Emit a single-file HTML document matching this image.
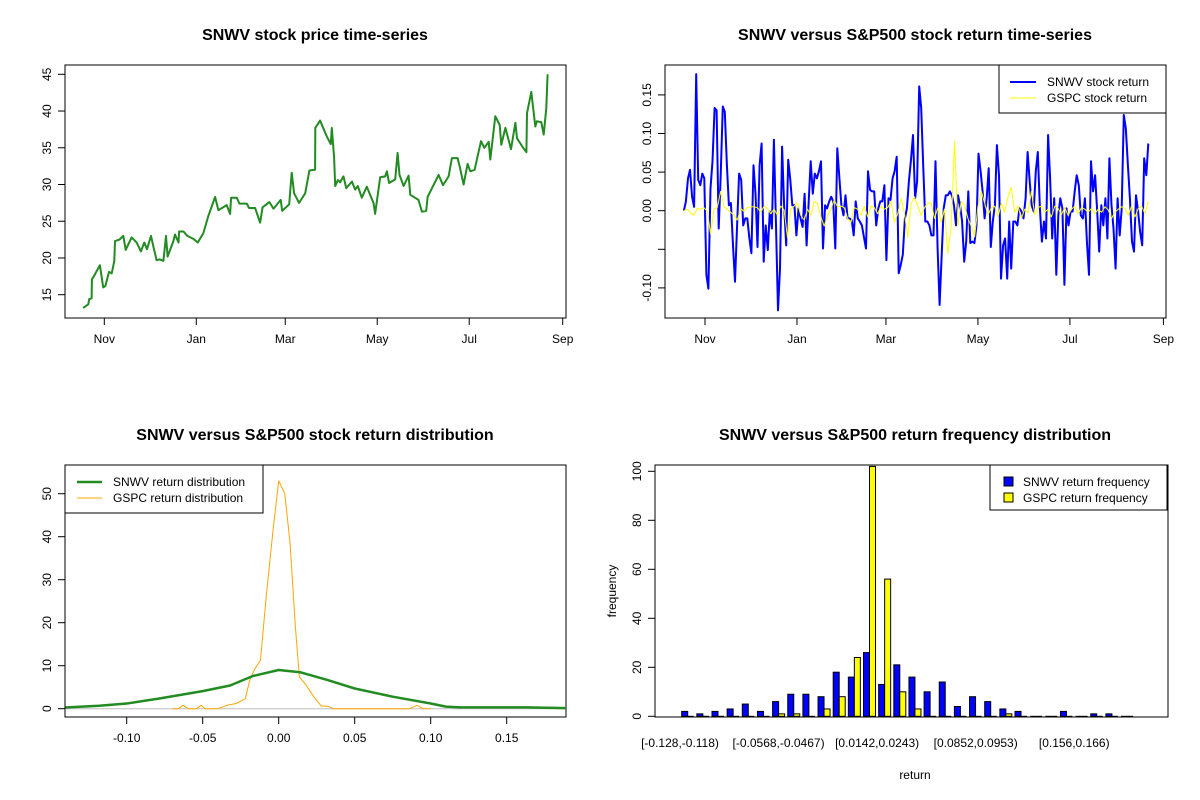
<!DOCTYPE html>
<html><head><meta charset="utf-8"><style>
body{margin:0;background:#fff}
svg{display:block;font-family:"Liberation Sans",Arial,sans-serif}
</style></head><body>
<svg id="chart" width="1200" height="800" viewBox="0 0 1200 800"></svg>
<script>
// ---------- data ----------
const priceDays=[-14,-10.6,-10,-8.4,-8.2,-6.6,-5.1,-2.9,-0.7,0.7,3.1,4.9,6.6,7.1,10,12.6,14.2,18.1,21.5,24.3,26.5,28.3,31,32.5,34.7,36.9,39.2,40.9,42,45.8,46.9,49.2,49.6,52.5,55.1,59.1,62,65.7,69,73.5,75.7,81.2,83.4,84.1,87.9,89.6,94.5,96,100,103.3,105,109.5,112.2,117,118,122.6,124.3,125.9,129.2,133.2,136,139.8,139.9,143.1,147.6,150.2,150.9,152.4,153.1,154.9,156.4,158.6,160.4,164.2,166.4,168.1,170.8,174.1,178.5,179.6,183,186.3,187.4,188.9,192.9,194.5,195.8,198.5,201.8,202.9,208.4,210.6,213.5,214.4,221.7,224.6,228.3,230.5,234.3,235.6,238.3,240.9,242.7,245.6,249.8,252,254.9,256,259.3,262.2,263.3,266,269.7,272.6,273.7,277.4,279.9,280.3,283.2,285.8,286.9,289.8,291.4,293.1,294];
const prices=[13.2,13.7,14.4,14.5,17.1,17.6,18.2,19.0,16.0,16.2,18.1,17.9,19.6,22.3,22.5,23.0,21.1,22.8,22.1,20.9,22.1,21.2,23.0,21.6,19.7,19.8,19.6,23.0,20.2,22.3,23.2,22.1,23.6,23.6,23.0,22.6,22.1,23.4,25.7,28.3,26.5,27.2,26.0,28.2,28.2,27.4,27.4,26.8,26.8,24.8,26.9,27.6,26.7,27.9,26.4,27.3,31.6,28.8,27.5,28.8,31.9,32.0,37.7,38.7,36.5,35.5,37.7,33.7,29.8,30.6,30.3,31.1,29.5,30.4,29.3,29.8,28.2,29.7,27.5,26.0,31.0,31.1,31.8,30.2,30.7,34.3,31.3,29.8,31.2,28.6,27.9,26.3,26.4,28.3,31.3,29.9,31.1,33.6,33.6,32.5,30.0,32.8,31.8,32.0,35.9,35.0,35.8,33.4,39.3,38.1,35.4,37.7,34.8,38.4,36.3,35.1,34.4,39.7,42.6,37.9,38.6,38.5,36.8,40.4,45.0];
const monthLabels=["Nov","Jan","Mar","May","Jul","Sep"];
const monthDays=[0,61,120,181,242,304];
const priceTicks=[15,20,25,30,35,40,45];
const snwvRet=[0,.012,.042,.053,.018,.005,.177,.040,.033,.048,.042,-.083,-.101,.029,.064,.133,.130,-.023,.046,.135,.128,.059,.007,.010,-.045,-.092,-.019,.048,.040,-.019,-.010,-.010,-.036,-.055,.059,.022,-.047,.059,.087,-.066,-.019,-.051,-.001,-.023,.092,-.019,-.129,-.075,.083,.007,-.045,.066,.040,.007,.007,-.032,.003,-.010,-.021,.022,-.045,.012,.064,.022,.048,.042,.051,.064,-.049,.007,.003,.012,.018,.012,-.049,.081,.042,.007,-.006,.020,-.010,-.010,-.012,-.032,.012,-.010,-.014,-.019,-.034,-.049,.051,.027,.025,.025,-.019,.003,.012,.012,.033,-.064,.016,.014,.042,.051,.070,-.081,-.070,-.057,-.010,.003,.038,.066,.098,.016,.038,.161,.133,.055,
-.014,-.014,-.019,-.032,-.032,.064,-.049,-.122,-.057,.003,.020,.020,.025,.020,.007,-.019,.020,.007,-.014,-.066,-.040,.025,-.042,-.040,-.042,-.019,.074,.051,.025,-.010,.016,.055,-.047,-.014,.007,.085,.046,-.088,-.045,-.036,-.088,-.014,-.075,-.014,-.014,-.019,.003,-.001,-.010,.016,.076,.038,.007,-.001,.051,.076,.003,-.040,-.014,-.036,.098,.042,-.036,.016,-.083,-.006,.016,.003,-.096,.003,-.019,-.001,-.001,.025,.046,.033,-.006,-.010,.016,-.040,-.083,.064,.025,.046,-.001,-.053,.007,-.019,.016,-.036,.068,.007,-.023,-.075,.016,-.032,.003,.124,.107,.059,.016,-.040,-.053,.020,-.001,-.027,-.045,.068,.046,.087];
const gspcRet=[0,.002,-.003,-.006,.003,.002,.004,-.001,-.03,.002,.004,.025,.005,.002,-.002,-.006,-.012,.003,-.001,.004,.005,.005,.004,-.002,.006,.003,-.004,.002,-.006,.006,.001,-.035,.002,.006,.01,-.006,-.012,.002,-.006,.012,.009,-.008,-.02,-.006,.002,.014,.005,.006,.004,-.01,-.015,.004,.002,-.006,.006,-.008,.006,.004,-.004,.006,.002,.004,.012,-.015,-.004,.016,-.003,-.035,.009,.018,.006,-.006,.004,.01,
.01,-.01,.004,-.015,.002,-.055,-.02,.09,-.02,.012,.007,-.01,-.02,-.034,.005,.025,.01,-.006,.004,.006,-.008,.01,-.002,.018,.03,-.002,.006,-.01,.002,-.003,.025,-.005,.004,.006,-.002,.002,-.008,.006,.003,-.005,.004,-.006,.002,.006,-.004,.004,.002,-.002,.003,-.004,.002,-.002,.005,.001,-.01,-.002,.002,.005,.003,-.006,.006,-.008,.003,.006,-.004,.012];
const retTicks=[-0.10,-0.05,0,0.05,0.10,0.15];
const retTickLabels=["-0.10","","0.00","0.05","0.10","0.15"];
const densX=[-0.144,-0.118,-0.1,-0.078,-0.05,-0.032,-0.017,0,0.014,0.032,0.05,0.075,0.1,0.11,0.119,0.163,0.19];
const snwvDens=[0.2,0.7,1.2,2.4,4.1,5.4,7.6,9.0,8.5,6.7,4.7,2.8,1.2,0.5,0.3,0.3,0.15];
const gspcDensX=[-0.07,-0.066,-0.063,-0.0595,-0.054,-0.051,-0.0485,-0.04,-0.034,-0.028,-0.022,-0.019,-0.016,-0.012,-0.008,-0.0035,0,0.004,0.0075,0.011,0.0136,0.018,0.023,0.028,0.032,0.036,0.082,0.086,0.091,0.095,0.1];
const gspcDens=[0,0,0.8,0,0,0.8,0,0,0.8,1.2,2.3,6.7,9.1,11.3,26.8,42.3,53,50,38.4,19,7.4,5.5,2.8,0.6,0.6,0,0,0,0.8,0,0];
const densTicksX=[-0.10,-0.05,0,0.05,0.10,0.15];
const densTicksXLab=["-0.10","-0.05","0.00","0.05","0.10","0.15"];
const densTicksY=[0,10,20,30,40,50];
const snwvFreq=[2,1,2,3,5,2,6,9,9,8,18,16,26,13,21,16,10,14,4,8,6,3,2,0,0,2,0,1,1,0];
const gspcFreq=[0,0,0,0,0,0,1,1,0,3,8,24,102,56,10,3,0,0,0,0,0,1,0,0,0,0,0,0,0,0];
const binLabels=["[-0.128,-0.118)","[-0.0568,-0.0467)","[0.0142,0.0243)","[0.0852,0.0953)","[0.156,0.166)"];
const binLabelIdx=[0,7,14,21,28];
const freqTicks=[0,20,40,60,80,100];

// ---------- helpers ----------
const NS="http://www.w3.org/2000/svg";
const svg=document.getElementById('chart');
function mk(tag,attrs,parent,txt){const e=document.createElementNS(NS,tag);for(const k in attrs)e.setAttribute(k,attrs[k]);if(txt!==undefined)e.textContent=txt;(parent||svg).appendChild(e);return e;}
function group(name){const g=mk('g',{});


return g;}
function lin(d0,d1,r0,r1){return v=>r0+(v-d0)*(r1-r0)/(d1-d0);}
function title(g,x,y,t){const e=mk('text',{x:x,y:y,'text-anchor':'middle','font-size':16,'font-weight':'bold',fill:'#000'},g,t);

}
function box(g,x0,y0,x1,y1){const e=mk('rect',{x:x0,y:y0,width:x1-x0,height:y1-y0,fill:'none',stroke:'#000','stroke-width':1},g);

}
function yAxis(g,ax,ys,vals,labs,y){mk('line',{x1:ax,x2:ax,y1:y(vals[0]),y2:y(vals[vals.length-1]),stroke:'#000'},g);
vals.forEach((v,i)=>{const yy=y(v);mk('line',{x1:ax,x2:ax-7,y1:yy,y2:yy,stroke:'#000'},g);
if(labs[i]!==''){const t=mk('text',{x:ax-14,y:yy,'font-size':12,'text-anchor':'middle',transform:`rotate(-90 ${ax-14} ${yy})`,fill:'#000'},g,labs[i]);

}});}
function xAxis(g,ay,vals,labs,x){mk('line',{x1:x(vals[0]),x2:x(vals[vals.length-1]),y1:ay,y2:ay,stroke:'#000'},g);
vals.forEach((v,i)=>{const xx=x(v);mk('line',{x1:xx,x2:xx,y1:ay,y2:ay+7,stroke:'#000'},g);
const t=mk('text',{x:xx,y:ay+25,'font-size':12,'text-anchor':'middle',fill:'#000'},g,labs[i]);

});}
function poly(g,xs,ys,col,w){return mk('polyline',{points:xs.map((v,i)=>v.toFixed(1)+','+ys[i].toFixed(1)).join(' '),fill:'none',stroke:col,'stroke-width':w,'stroke-linejoin':'round'},g);}

// ---------- panel 1: price ----------
{const g=group('price-panel');
const x=lin(0,304,104.3,562.7), y=lin(15,45,294.7,74.3);
title(g,315,40,'SNWV stock price time-series');
box(g,65,65,566,318);
const l=poly(g,priceDays.map(x),prices.map(y),'#228B22',2);


yAxis(g,65,null,priceTicks,priceTicks.map(String),y);
xAxis(g,318,monthDays,monthLabels,x);}

// ---------- panel 2: returns ----------
{const g=group('return-panel');
const x=lin(0,304,705,1163.4), y=lin(0,0.05,210.7,172.1);
title(g,915,40,'SNWV versus S&P500 stock return time-series');
box(g,665,65,1166,318);
const d0=-14,d1=294;
const sx=snwvRet.map((v,i)=>x(d0+(d1-d0)*i/(snwvRet.length-1)));
const gx=gspcRet.map((v,i)=>x(d0+(d1-d0)*i/(gspcRet.length-1)));
const l1=poly(g,sx,snwvRet.map(y),'#0000FF',2);


const l2=poly(g,gx,gspcRet.map(y),'#FFFF00',1);


yAxis(g,665,null,retTicks,retTickLabels,y);
xAxis(g,318,monthDays,monthLabels,x);
const lg=group('return-legend');g.appendChild(lg);
mk('rect',{x:999,y:65,width:167,height:48,fill:'#fff',stroke:'#000'},lg);
mk('line',{x1:1010,x2:1036,y1:82,y2:82,stroke:'#0000FF','stroke-width':2},lg);
mk('line',{x1:1010,x2:1036,y1:98,y2:98,stroke:'#FFFF00','stroke-width':1},lg);
mk('text',{x:1047,y:86,'font-size':12},lg,'SNWV stock return');
mk('text',{x:1047,y:102,'font-size':12},lg,'GSPC stock return');}

// ---------- panel 3: density ----------
{const g=group('density-panel');
const x=lin(0,0.05,278.7,354.7), y=lin(0,10,708.7,665.7);
title(g,315,440,'SNWV versus S&P500 stock return distribution');
box(g,65,465,566,717);
mk('line',{x1:65,x2:566,y1:y(0),y2:y(0),stroke:'#bebebe'},g);
const cl=mk('clipPath',{id:'c3'},g);mk('rect',{x:65,y:465,width:501,height:252},cl);
const l2=poly(g,gspcDensX.map(x),gspcDens.map(y),'#FFA500',1);l2.setAttribute('clip-path','url(#c3)');


const l1=poly(g,densX.map(x),snwvDens.map(y),'#228B22',2.5);l1.setAttribute('clip-path','url(#c3)');


yAxis(g,65,null,densTicksY,densTicksY.map(String),y);
xAxis(g,717,densTicksX,densTicksXLab,x);
const lg=group('density-legend');g.appendChild(lg);
mk('rect',{x:65,y:465,width:198,height:48,fill:'#fff',stroke:'#000'},lg);
mk('line',{x1:77,x2:102,y1:482,y2:482,stroke:'#228B22','stroke-width':2.5},lg);
mk('line',{x1:77,x2:102,y1:498,y2:498,stroke:'#FFA500','stroke-width':1},lg);
mk('text',{x:113,y:486,'font-size':12},lg,'SNWV return distribution');
mk('text',{x:113,y:502,'font-size':12},lg,'GSPC return distribution');}

// ---------- panel 4: histogram ----------
{const g=group('frequency-panel');
const y=lin(0,20,716.3,667.3);
const gx=i=>681.7+i*15.15;
title(g,915,440,'SNWV versus S&P500 return frequency distribution');
const cl=mk('clipPath',{id:'c4'},g);mk('rect',{x:655,y:465,width:513,height:252},cl);
const bars=group('bars');g.appendChild(bars);bars.setAttribute('clip-path','url(#c4)');
function bar(x0,v,col){
 if(v===0){const z=mk('line',{x1:x0,x2:x0+6,y1:y(0),y2:y(0),stroke:'#000','stroke-width':1},bars);
 
 return;}
 const b=mk('rect',{x:x0,y:y(v),width:6,height:y(0)-y(v),fill:col,stroke:'#000','stroke-width':1},bars);
 
 }
snwvFreq.forEach((v,i)=>bar(gx(i),v,'#0000FF'));
gspcFreq.forEach((v,i)=>bar(gx(i)+6,v,'#FFFF00'));
box(g,655,465,1168,717);
yAxis(g,655,null,freqTicks,freqTicks.map(String),y);
const lx=i=>680+i*14.08;
binLabelIdx.forEach((k,i)=>{const t=mk('text',{x:lx(k),y:747,'font-size':12,'text-anchor':'middle'},g,binLabels[i]);

});
const xt=mk('text',{x:915,y:779,'font-size':12,'text-anchor':'middle'},g,'return');


const yt=mk('text',{x:616,y:591,'font-size':12,'text-anchor':'middle',transform:'rotate(-90 616 591)'},g,'frequency');


const lg=group('frequency-legend');g.appendChild(lg);
mk('rect',{x:990,y:465,width:177,height:45,fill:'#fff',stroke:'#000'},lg);
mk('rect',{x:1004,y:477,width:9,height:9,fill:'#0000FF',stroke:'#000'},lg);
mk('rect',{x:1004,y:493,width:9,height:9,fill:'#FFFF00',stroke:'#000'},lg);
mk('text',{x:1023,y:486,'font-size':12},lg,'SNWV return frequency');
mk('text',{x:1023,y:502,'font-size':12},lg,'GSPC return frequency');}
</script>
</body></html>
